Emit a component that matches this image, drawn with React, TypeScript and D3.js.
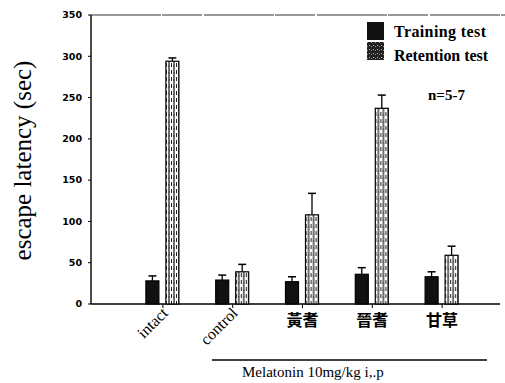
import React from 'react';
import * as d3 from 'd3';

// values
const groups = ['intact', 'control', '黃耆', '晉耆', '甘草'];
const training = [28, 29, 27, 36, 33];
const trainingErr = [6, 6, 6, 8, 6];
const retention = [294, 39, 108, 237, 59];
const retentionErr = [4, 9, 26, 16, 11];
const yTicks = [0, 50, 100, 150, 200, 250, 300, 350];
const subgroups = ['training', 'retention'];

const W = 505, H = 383;

export default function App() {
  const y = d3.scaleLinear().domain([0, 350]).range([304, 15]);
  const x = d3.scaleBand().domain(groups).range([128, 477]).padding(0);
  const bw = x.bandwidth();
  const xSub = d3.scaleBand().domain(subgroups).range([bw / 2 - 17, bw / 2 + 16]).paddingInner(0.35);

  const rows = groups.map((g, i) => ({
    g,
    bars: [
      { key: 'training', v: training[i], e: trainingErr[i] },
      { key: 'retention', v: retention[i], e: retentionErr[i] },
    ],
  }));

  const serif = '"Liberation Serif", "DejaVu Serif", serif';

  return (
    <svg width={W} height={H} style={{ position: 'absolute', left: 0, top: 0, background: '#fff' }}>
      <defs>
        <pattern id="hatch" width="5" height="7" patternUnits="userSpaceOnUse">
          <rect width="5" height="7" fill="#fff" />
          <line x1="1" y1="0" x2="1" y2="7" stroke="#111" strokeWidth="1.2" />
          <line x1="3.5" y1="0" x2="3.5" y2="4" stroke="#222" strokeWidth="1" />
          <line x1="0" y1="3" x2="2" y2="3" stroke="#333" strokeWidth="0.8" />
        </pattern>
        <pattern id="speck" width="4" height="4" patternUnits="userSpaceOnUse">
          <rect width="4" height="4" fill="#222" />
          <rect x="1" y="1" width="1" height="1" fill="#bbb" />
          <rect x="3" y="2" width="1" height="1" fill="#888" />
        </pattern>
      </defs>

      {/* frame top + axes */}
      <line x1={91} x2={505} y1={y(350)} y2={y(350)} stroke="#333" strokeWidth={1} strokeDasharray="70 1 40 2" />
      <line x1={91} x2={91} y1={y(350)} y2={y(0)} stroke="#000" strokeWidth={1.4} />
      <line x1={91} x2={500} y1={y(0)} y2={y(0)} stroke="#000" strokeWidth={1.4} />

      {yTicks.map(t => (
        <g key={t} transform={`translate(91,${y(t)})`}>
          <line x1={-3} x2={0} stroke="#000" />
          <text x={-9} dy="0.35em" textAnchor="end" fontFamily='"DejaVu Sans", sans-serif' fontWeight="bold" fontSize={9.5}>{t}</text>
        </g>
      ))}

      <text
        transform={`translate(31,${(53 + 268) / 2}) rotate(-90)`}
        textAnchor="middle"
        fontFamily={serif}
        fontSize={25}
      >escape latency (sec)</text>

      {rows.map(r => (
        <g key={r.g} transform={`translate(${x(r.g)},0)`}>
          <line x1={bw / 2} x2={bw / 2} y1={y(0)} y2={y(0) + 4} stroke="#000" />
          {r.bars.map(b => {
            const cx = (xSub(b.key) as number) + xSub.bandwidth() / 2;
            return (
              <g key={b.key}>
                <line x1={cx} x2={cx} y1={y(b.v)} y2={y(b.v + b.e)} stroke="#000" strokeWidth={1.3} />
                <line x1={cx - 4} x2={cx + 4} y1={y(b.v + b.e)} y2={y(b.v + b.e)} stroke="#000" strokeWidth={1.5} />
                <rect
                  x={xSub(b.key)}
                  y={y(b.v)}
                  width={xSub.bandwidth()}
                  height={y(0) - y(b.v)}
                  fill={b.key === 'training' ? '#111' : 'url(#hatch)'}
                  stroke="#000"
                  strokeWidth={1.2}
                />
              </g>
            );
          })}
        </g>
      ))}

      {/* category labels */}
      {groups.map((g, i) => {
        const cx = (x(g) as number) + bw / 2;
        if (i < 2) {
          return (
            <text key={g} transform={`translate(${cx + 6},${314}) rotate(-45)`} textAnchor="end"
              fontFamily={serif} fontSize={16}>{g}</text>
          );
        }
        return (
          <text key={g} x={cx} y={326} textAnchor="middle" fontFamily='"Noto Sans CJK TC", sans-serif'
            fontWeight="bold" fontSize={16}>{g}</text>
        );
      })}

      {/* melatonin bracket */}
      <line x1={212} x2={487} y1={360} y2={360} stroke="#000" strokeWidth={1.5} />
      <text x={242} y={377} fontFamily={serif} fontSize={15}>Melatonin 10mg/kg i,.p</text>

      {/* legend */}
      <rect x={367} y={22} width={17} height={18} fill="#111" />
      <rect x={367} y={42} width={17} height={18} fill="url(#speck)" />
      <text x={394} y={37} fontFamily={serif} fontWeight="bold" fontSize={16} textLength={92}>Training test</text>
      <text x={394} y={61} fontFamily={serif} fontWeight="bold" fontSize={16} textLength={94}>Retention test</text>
      <text x={428} y={100} fontFamily={serif} fontWeight="bold" fontSize={15}>n=5-7</text>
    </svg>
  );
}
